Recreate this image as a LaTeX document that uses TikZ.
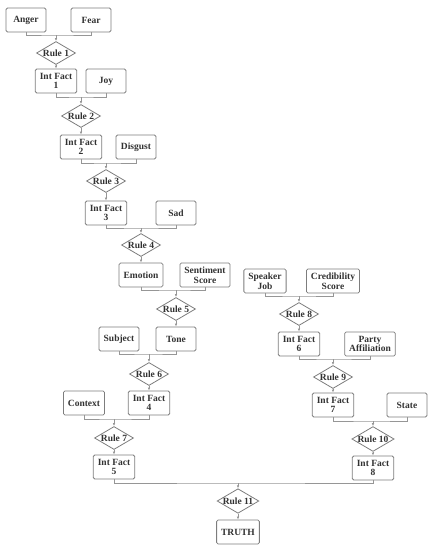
\documentclass[tikz,border=0pt]{standalone}
\usepackage{fontspec}
\setmainfont{Liberation Serif}
\usepackage{tikz}
\usetikzlibrary{arrows.meta, positioning, shapes.geometric}
\definecolor{inkgray}{RGB}{50,50,50}
\definecolor{edgegray}{RGB}{125,125,125}
\definecolor{linkgray}{RGB}{150,150,150}

\begin{document}
\begin{tikzpicture}[
        x=1pt, y=-1pt,
        fact/.style={rectangle, draw=edgegray, line width=0.8pt, rounded corners=1.5pt, minimum width=40pt, minimum height=24pt, inner xsep=4.5pt, inner ysep=2pt, align=center, text=inkgray, font=\fontsize{9.5}{9.5}\selectfont\bfseries},
        rule/.style={diamond, draw=edgegray, line width=0.8pt, aspect=1.7, minimum width=39pt, minimum height=23pt, inner sep=0pt, text=inkgray, font=\fontsize{9.5}{9.5}\selectfont\bfseries},
        link/.style={draw=linkgray, line width=0.6pt},
        arrow/.style={draw=linkgray, line width=0.6pt, -{Latex[length=3pt, width=2.5pt]}}
    ]
        \useasboundingbox (0,0) rectangle (433,550);

        % left chain
        \node [fact] (anger) at (26,20) {Anger};
        \node [fact] (fear) at (91,20) {Fear};
        \coordinate (j1) at (56,35);
        \node [rule] (rule1) at (56,53) {Rule 1};
        \node [fact] (if1) at (56,81) {Int Fact\\1};
        \node [fact] (joy) at (106,81) {Joy};
        \coordinate (j2) at (81,97);
        \node [rule] (rule2) at (81,116) {Rule 2};
        \node [fact] (if2) at (81,147) {Int Fact\\2};
        \node [fact] (disgust) at (136,147) {Disgust};
        \coordinate (j3) at (106,163);
        \node [rule] (rule3) at (106,181) {Rule 3};
        \node [fact] (if3) at (106,213) {Int Fact\\3};
        \node [fact] (sad) at (176,213) {Sad};
        \coordinate (j4) at (141,228);
        \node [rule] (rule4) at (141,245) {Rule 4};
        \node [fact] (emotion) at (141,275) {Emotion};
        \node [fact] (sentiment) at (205,275) {Sentiment\\Score};
        \coordinate (j5) at (176,290);
        \node [rule] (rule5) at (176,309) {Rule 5};
        \node [fact] (subject) at (119,339) {Subject};
        \node [fact] (tone) at (176,339) {Tone};
        \coordinate (j6) at (149,354);
        \node [rule] (rule6) at (149,374) {Rule 6};
        \node [fact] (context) at (84,403) {Context};
        \node [fact] (if4) at (149,403) {Int Fact\\4};
        \coordinate (j7) at (114,419);
        \node [rule] (rule7) at (114,438) {Rule 7};
        \node [fact] (if5) at (114,467) {Int Fact\\5};

        % right chain
        \node [fact] (speaker) at (265,281) {Speaker\\Job};
        \node [fact] (credibility) at (333,281) {Credibility\\Score};
        \coordinate (j8) at (299,296);
        \node [rule] (rule8) at (299,314) {Rule 8};
        \node [fact] (if6) at (299,344) {Int Fact\\6};
        \node [fact] (party) at (370,344) {Party\\Affiliation};
        \coordinate (j9) at (333,359);
        \node [rule] (rule9) at (333,377) {Rule 9};
        \node [fact] (if7) at (333,405) {Int Fact\\7};
        \node [fact] (state) at (407,405) {State};
        \coordinate (j10) at (373,421);
        \node [rule] (rule10) at (373,439) {Rule 10};
        \node [fact] (if8) at (373,468) {Int Fact\\8};

        % final
        \coordinate (j11) at (238,483);
        \node [rule] (rule11) at (238,501) {Rule 11};
        \node [fact] (truth) at (238,532) {TRUTH};

        \path [link] (anger.south) |- (j1) -| (fear.south);
        \path [link] (if1.south) |- (j2) -| (joy.south);
        \path [link] (if2.south) |- (j3) -| (disgust.south);
        \path [link] (if3.south) |- (j4) -| (sad.south);
        \path [link] (emotion.south) |- (j5) -| (sentiment.south);
        \path [link] (subject.south) |- (j6) -| (tone.south);
        \path [link] (context.south) |- (j7) -| (if4.south);
        \path [link] (speaker.south) |- (j8) -| (credibility.south);
        \path [link] (if6.south) |- (j9) -| (party.south);
        \path [link] (if7.south) |- (j10) -| (state.south);
        \path [link] (if5.south) |- (j11) -| (if8.south);

        \path [arrow] (j1) -- (rule1);
        \path [arrow] (rule1) -- (if1);
        \path [arrow] (j2) -- (rule2);
        \path [arrow] (rule2) -- (if2);
        \path [arrow] (j3) -- (rule3);
        \path [arrow] (rule3) -- (if3);
        \path [arrow] (j4) -- (rule4);
        \path [arrow] (rule4) -- (emotion);
        \path [arrow] (j5) -- (rule5);
        \path [arrow] (rule5) -- (tone);
        \path [arrow] (j6) -- (rule6);
        \path [arrow] (rule6) -- (if4);
        \path [arrow] (j7) -- (rule7);
        \path [arrow] (rule7) -- (if5);
        \path [arrow] (j8) -- (rule8);
        \path [arrow] (rule8) -- (if6);
        \path [arrow] (j9) -- (rule9);
        \path [arrow] (rule9) -- (if7);
        \path [arrow] (j10) -- (rule10);
        \path [arrow] (rule10) -- (if8);
        \path [arrow] (j11) -- (rule11);
        \path [arrow] (rule11) -- (truth);
    \end{tikzpicture}
\end{document}
